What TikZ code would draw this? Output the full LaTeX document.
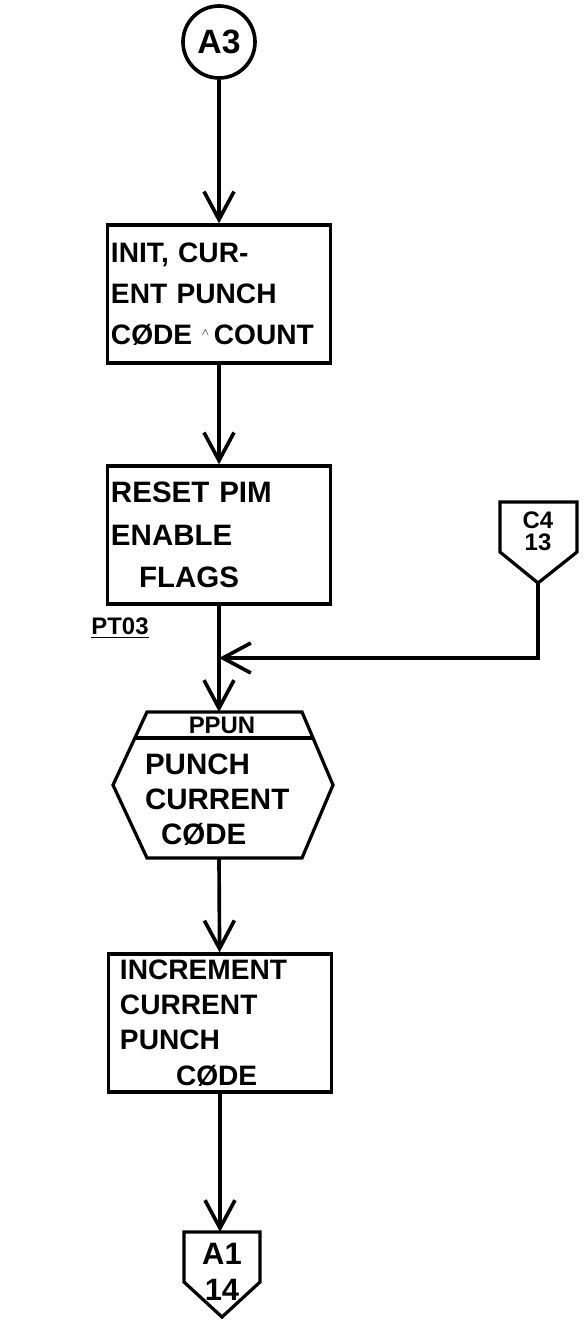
\documentclass[tikz,border=0pt]{standalone}
\usepackage{fontspec}
\setmainfont{Liberation Sans}
\usetikzlibrary{arrows.meta,shapes}

\begin{document}
\begin{tikzpicture}[x=0.25mm, y=-0.25mm,
		every node/.style={font=\fontsize{21}{27}\selectfont\bfseries},
		flow/.style={line width=2.6pt, -{Straight Barb[length=7mm,width=7.5mm,line width=2.6pt]}},
		procbox/.style={draw, line width=2.3pt, minimum width=55.75mm, minimum height=34.5mm, inner sep=0pt, align=left, text width=54mm},
		labeltext/.style={font=\fontsize{17}{19}\selectfont\bfseries, inner sep=0pt}]
		
		% \draw[gray, very thin] (0,0) grid[step=50] (588,1321);
		\useasboundingbox (0,0) rectangle (588,1321);
		
		\node[draw, circle, line width=2.6pt, minimum size=18mm, inner sep=0pt, font=\fontsize{24}{28}\selectfont\bfseries] (a3) at (219,42) {A3};
		
		\node[procbox, font=\fontsize{20}{29}\selectfont\bfseries] (init) at (219,294) {INIT, CUR-\\ENT PUNCH\\C\O DE \raisebox{0.6ex}{\scriptsize$\wedge$}\,COUNT};
		\node[procbox, font=\fontsize{21}{30}\selectfont\bfseries] (reset) at (219,535) {RESET PIM\\ENABLE\\\hspace*{7mm}FLAGS};
		
		\draw[line width=2.3pt] (147,712) -- (302,712) -- (333,785) -- (302,858) -- (147,858) -- (113,785) -- cycle;
		\draw[line width=2.3pt] (135,738) -- (313,738);
		\coordinate (hextop) at (219,712);
		\coordinate (hexbot) at (219,858);
		\node[font=\fontsize{17}{20}\selectfont\bfseries] (ppun) at (222,725) {PPUN};
		\node[align=left, text width=45mm, font=\fontsize{21}{25}\selectfont\bfseries] (punch) at (235,800) {PUNCH\\CURRENT\\\hspace*{4mm}C\O DE};
		
		\node[procbox, font=\fontsize{20}{25}\selectfont\bfseries, text width=50mm] (incr) at (220,1023) {INCREMENT\\CURRENT\\PUNCH\\\hspace*{14mm}C\O DE};
		
		\draw[line width=2.3pt] (500,502) -- (577,502) -- (577,552) -- (538,583) -- (500,552) -- cycle;
		\coordinate (c4tip) at (538,583);
		\node[labeltext] (c4) at (538,520) {C4};
		\node[labeltext] (c4page) at (538,542) {13};
		
		\draw[line width=2.3pt] (184,1232) -- (260,1232) -- (260,1282) -- (222,1317) -- (184,1282) -- cycle;
		\coordinate (a1top) at (222,1232);
		\node[labeltext, font=\fontsize{22}{24}\selectfont\bfseries] (a1) at (222,1254) {A1};
		\node[labeltext, font=\fontsize{22}{24}\selectfont\bfseries] (a1page) at (222,1290) {14};
		
		\node[labeltext] (pt03) at (120,628) {\underline{PT03}};
		
		\coordinate (join) at (219,658);
		\coordinate (c4turn) at (538,658);
		
		\draw[flow] (a3) -- (init);
		\draw[flow] (init) -- (reset);
		\draw[flow] (reset) -- (hextop);
		\draw[flow] (c4tip) -- (c4turn) -- (join);
		\draw[flow] (hexbot) -- (incr);
		\draw[flow] (incr.south) -- (incr.south |- a1top);
		
		\end{tikzpicture}
\end{document}
